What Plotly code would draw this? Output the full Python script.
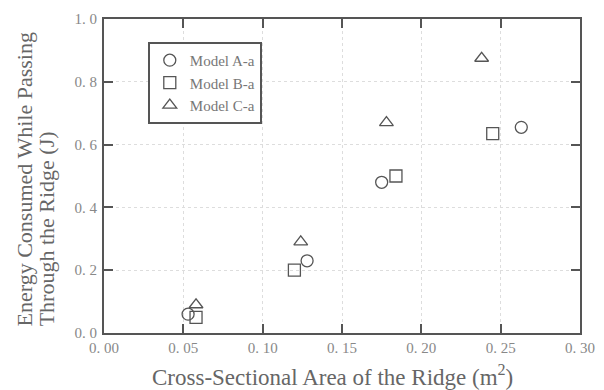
import plotly.graph_objects as go

# cross-sectional area (m2) and energy (J)
area_a = [0.053, 0.128, 0.175, 0.263]
energy_a = [0.06, 0.23, 0.48, 0.655]

area_b = [0.058, 0.120, 0.184, 0.245]
energy_b = [0.05, 0.20, 0.50, 0.635]

area_c = [0.058, 0.124, 0.178, 0.238]
energy_c = [0.09, 0.29, 0.67, 0.875]

x_ticks = [0.0, 0.05, 0.10, 0.15, 0.20, 0.25, 0.30]
x_labels = ["0. 00", "0. 05", "0. 10", "0. 15", "0. 20", "0. 25", "0. 30"]
y_ticks = [0.0, 0.2, 0.4, 0.6, 0.8, 1.0]
y_labels = ["0. 0", "0. 2", "0. 4", "0. 6", "0. 8", "1. 0"]

ink = "#555555"
font = "Liberation Serif"

fig = go.Figure()
series = [
    ("Model A-a", area_a, energy_a, "circle-open"),
    ("Model B-a", area_b, energy_b, "square-open"),
    ("Model C-a", area_c, energy_c, "triangle-up-open"),
]
for name, xs, ys, sym in series:
    fig.add_trace(go.Scatter(
        x=xs, y=ys, mode="markers", name=name,
        marker=dict(symbol=sym, size=12, color=ink, line=dict(width=1.3, color=ink)),
    ))

axis_common = dict(
    showline=True, linecolor=ink, linewidth=2, mirror="ticks",
    ticks="inside", ticklen=9, tickcolor=ink, tickwidth=1.5,
    showgrid=True, gridcolor="#dddddd", griddash="dot", gridwidth=1,
    zeroline=False, automargin=False,
    tickfont=dict(family=font, size=15, color="#888888"),
)

fig.update_xaxes(range=[0, 0.30], tickvals=x_ticks, ticktext=x_labels,
                 ticklabelstandoff=0, ticklabeloverflow="allow", **axis_common)
fig.update_yaxes(range=[0, 1.0], tickvals=y_ticks, ticktext=y_labels,
                 ticklabelstandoff=2, **axis_common)

# axis titles as annotations so the plot box stays put
title_font = dict(family=font, size=22, color="#666666")
fig.add_annotation(
    text="Cross-Sectional Area of the Ridge (m<sup>2</sup>)",
    xref="paper", yref="paper", x=0.479, y=-0.134,
    xanchor="center", yanchor="middle", showarrow=False,
    font=dict(family=font, size=23, color="#666666"),
)
fig.add_annotation(
    text="Energy Consumed While Passing",
    xref="paper", yref="paper", x=-0.165, y=0.016,
    xanchor="center", yanchor="bottom", textangle=-90, showarrow=False, font=title_font,
)
fig.add_annotation(
    text="Through the Ridge (J)",
    xref="paper", yref="paper", x=-0.12, y=0.016,
    xanchor="center", yanchor="bottom", textangle=-90, showarrow=False, font=title_font,
)

# the page body adds 8px, so the figure is 8px smaller than the window
fig.update_layout(
    width=596, height=382,
    margin=dict(l=96, r=24, t=11, b=57),
    paper_bgcolor="white", plot_bgcolor="white",
    showlegend=True,
    legend=dict(
        x=0.092, y=0.927, xanchor="left", yanchor="top",
        bordercolor=ink, borderwidth=2, bgcolor="white",
        font=dict(family=font, size=15, color="#777777"),
        itemwidth=30, tracegroupgap=0,
    ),
)

fig.write_html("out.html")
